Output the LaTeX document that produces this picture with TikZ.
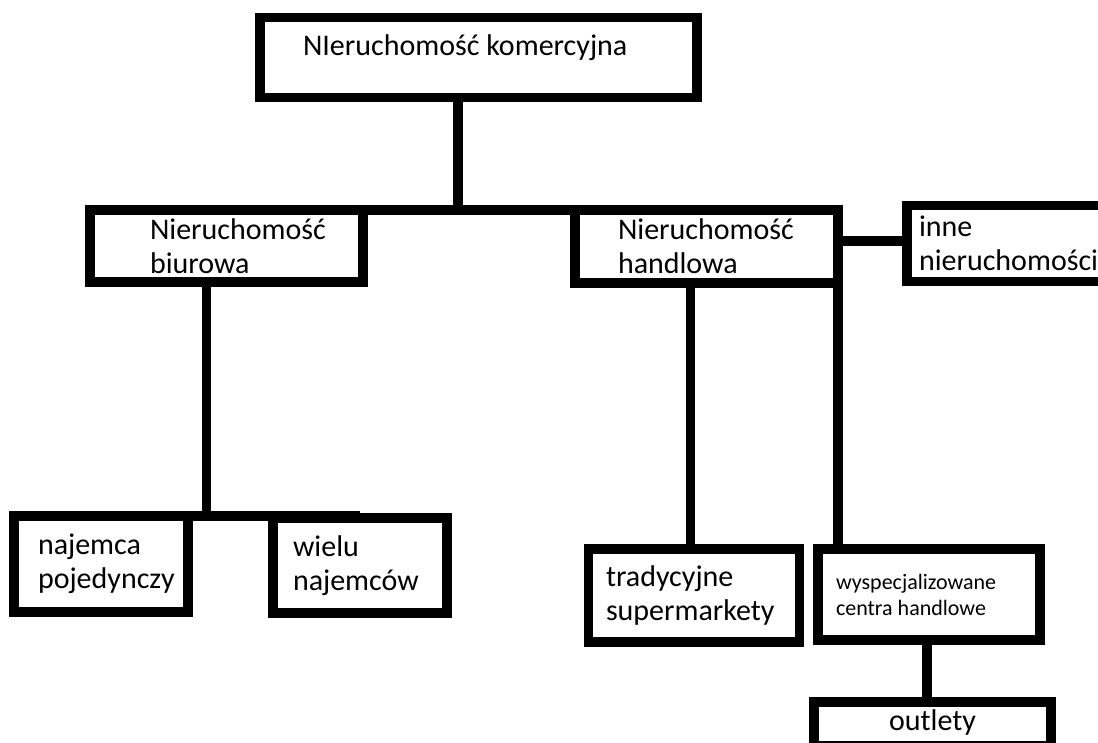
\documentclass[tikz,border=0pt]{standalone}
\usepackage{fontspec}
\setmainfont{Carlito}
\hyphenpenalty=10000
\tikzset{
  box/.style={draw=black,line width=9.5pt,anchor=north west,align=flush left,inner ysep=0pt,outer sep=0pt,font=\fontsize{30}{34}\selectfont},
  smallbox/.style={box,font=\fontsize{22}{26}\selectfont},
  link/.style={draw=black,line width=9.5pt}
}

\begin{document}
\begin{tikzpicture}[x=1pt,y=1pt]
\useasboundingbox (0,0) rectangle (1098,-742);

\node[box,text width=351pt,inner xsep=43pt,text height=37.5pt,text depth=42.5pt] (kom) at (260,-17.5) {NIeruchomość komercyjna};

\node[box,minimum height=72pt,text width=153pt,inner xsep=60pt] (biu) at (90,-210) {Nieruchomość\\biurowa};
\node[box,minimum height=73pt,text width=177pt,inner xsep=43pt] (han) at (575,-210) {Nieruchomość\\handlowa};
\node[box,minimum height=76pt,text width=226pt,inner xsep=12pt] (inne) at (907,-205.5) {inne\\nieruchomości};

\node[box,minimum height=96pt,text width=126pt,inner xsep=24pt] (naj) at (14,-516) {najemca\\pojedynczy};
\node[box,minimum height=95pt,text width=134pt,inner xsep=20pt] (wie) at (273,-518) {wielu\\najemców};
\node[box,minimum height=93pt,text width=176pt,inner xsep=17.5pt] (tra) at (588.5,-549) {tradycyjne\\supermarkety};
\node[smallbox,minimum height=91pt,text width=186pt,inner xsep=18pt] (wys) at (818,-549) {wyspecjalizowane\\centra handlowe};
\node[box,align=center,text width=217pt,inner xsep=10pt,text height=28pt,text depth=16pt] (out) at (814,-702) {outlety};

% connectors
\draw[link] ([xshift=-20.5pt]kom.south) -- ([xshift=-20.5pt]kom.south |- biu.north);
\draw[link] (biu.north) -- (han.north);
\draw[link] ([xshift=-20pt]biu.south) -- ([xshift=-20pt]biu.south |- naj.north);
\draw[link] (naj.north) -- (naj.north -| wie.north);
\draw[link] ([yshift=5.5pt]han.east) -- ([yshift=5.5pt]han.east -| inne.west);
\draw[link] ([xshift=-16pt]han.south) -- ([xshift=-16pt]han.south |- tra.north);
\draw[link] (han.south east) -- (han.south east |- wys.north);
\draw[link] ([xshift=-2pt]wys.south) -- ([xshift=-2pt]wys.south |- out.north);
\end{tikzpicture}
\end{document}
